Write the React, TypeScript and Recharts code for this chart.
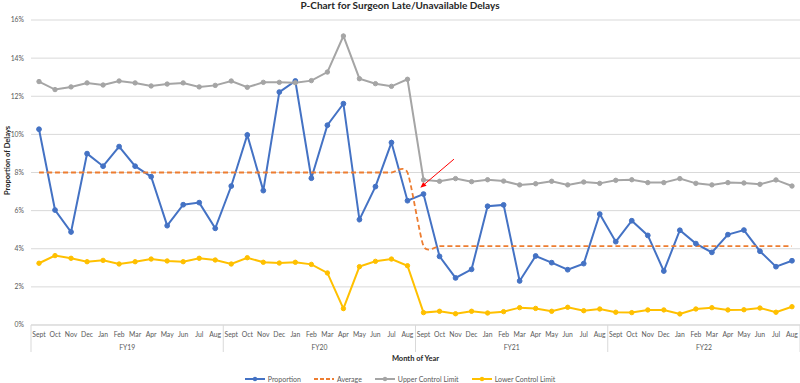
import React from 'react';
import { LineChart, Line, XAxis, YAxis, CartesianGrid, Legend, ReferenceLine, Label } from 'recharts';

// months of each fiscal year, Sept -> Aug
const MONTHS = ['Sept', 'Oct', 'Nov', 'Dec', 'Jan', 'Feb', 'Mar', 'Apr', 'May', 'Jun', 'Jul', 'Aug'];
const FISCAL_YEARS = ['FY19', 'FY20', 'FY21', 'FY22'];

const proportion = [
  10.27, 6.03, 4.88, 8.99, 8.33, 9.36, 8.33, 7.78, 5.21, 6.31, 6.42, 5.07,
  7.29, 9.97, 7.05, 12.22, 12.8, 7.7, 10.48, 11.61, 5.53, 7.26, 9.57, 6.52,
  6.87, 3.6, 2.47, 2.92, 6.23, 6.3, 2.31, 3.62, 3.27, 2.9, 3.22, 5.82,
  4.37, 5.47, 4.7, 2.83, 4.97, 4.27, 3.81, 4.74, 4.98, 3.87, 3.06, 3.37,
];

const average = [
  8, 8, 8, 8, 8, 8, 8, 8, 8, 8, 8, 8,
  8, 8, 8, 8, 8, 8, 8, 8, 8, 8, 8, 8,
  4.14, 4.14, 4.14, 4.14, 4.14, 4.14, 4.14, 4.14, 4.14, 4.14, 4.14, 4.14,
  4.14, 4.14, 4.14, 4.14, 4.14, 4.14, 4.14, 4.14, 4.14, 4.14, 4.14, 4.14,
];

const upperLimit = [
  12.77, 12.35, 12.49, 12.7, 12.59, 12.8, 12.7, 12.54, 12.64, 12.7, 12.49, 12.57,
  12.8, 12.47, 12.73, 12.73, 12.71, 12.82, 13.27, 15.16, 12.92, 12.66, 12.52, 12.89,
  7.61, 7.54, 7.68, 7.52, 7.62, 7.55, 7.35, 7.41, 7.54, 7.35, 7.5, 7.43,
  7.59, 7.62, 7.47, 7.47, 7.68, 7.43, 7.35, 7.47, 7.45, 7.38, 7.61, 7.29,
];

const lowerLimit = [
  3.24, 3.64, 3.5, 3.32, 3.39, 3.2, 3.32, 3.46, 3.36, 3.32, 3.5, 3.41,
  3.2, 3.53, 3.29, 3.25, 3.29, 3.18, 2.73, 0.86, 3.06, 3.34, 3.46, 3.11,
  0.65, 0.72, 0.59, 0.72, 0.63, 0.7, 0.91, 0.87, 0.72, 0.93, 0.75, 0.84,
  0.67, 0.65, 0.79, 0.79, 0.58, 0.84, 0.91, 0.79, 0.8, 0.89, 0.67, 0.96,
];

const Y_TICKS = [0, 2, 4, 6, 8, 10, 12, 14, 16];
const FY_CENTERS = [5.5, 17.5, 29.5, 41.5];
const FY_BOUNDS = [-0.5, 11.5, 23.5, 35.5, 47.5];

// annotation arrow (index, percent) from tail to head
const ARROW = [
  { x: 25.9, y: 8.7 },
  { x: 23.8, y: 7.2 },
];

const data = proportion.map((p, i) => ({
  i,
  month: MONTHS[i % 12],
  fy: FISCAL_YEARS[Math.floor(i / 12)],
  proportion: p,
  average: average[i],
  ucl: upperLimit[i],
  lcl: lowerLimit[i],
}));

const COLORS = {
  proportion: '#4472C4',
  average: '#ED7D31',
  ucl: '#A5A5A5',
  lcl: '#FFC000',
};

const FONT = 'Lato, "Open Sans", sans-serif';
const TEXT = '#595959';

// Excel-like smoothed line (bezier through points, mild tension)
function excelSmooth(context: any) {
  let xs: number[] = [];
  let ys: number[] = [];
  const k = 0.11;
  return {
    areaStart() {},
    areaEnd() {},
    lineStart() {
      xs = [];
      ys = [];
    },
    lineEnd() {
      const n = xs.length;
      if (!n) return;
      context.moveTo(xs[0], ys[0]);
      for (let i = 0; i < n - 1; i++) {
        const a = Math.max(i - 1, 0);
        const d = Math.min(i + 2, n - 1);
        context.bezierCurveTo(
          xs[i] + k * (xs[i + 1] - xs[a]),
          ys[i] + k * (ys[i + 1] - ys[a]),
          xs[i + 1] - k * (xs[d] - xs[i]),
          ys[i + 1] - k * (ys[d] - ys[i]),
          xs[i + 1],
          ys[i + 1]
        );
      }
    },
    point(x: number, y: number) {
      xs.push(+x);
      ys.push(+y);
    },
  };
}

const FyTick = (props: any) => {
  const { x, y, payload } = props;
  if (FY_BOUNDS.includes(payload.value)) {
    return <line x1={x} x2={x} y1={y - 14} y2={y + 13} stroke="#d9d9d9" strokeWidth={1} />;
  }
  const idx = FY_CENTERS.indexOf(payload.value);
  return (
    <text x={x} y={y + 8.7} dy="0.35em" textAnchor="middle" fontSize={6.8} fill={TEXT} fontFamily={FONT}>
      {FISCAL_YEARS[idx]}
    </text>
  );
};

const YTitle = (props: any) => {
  const { viewBox } = props;
  const cx = viewBox.x + 7;
  const cy = viewBox.y + viewBox.height / 2 - 12;
  return (
    <text
      x={cx}
      y={cy}
      transform={`rotate(-90, ${cx}, ${cy})`}
      textAnchor="middle"
      dominantBaseline="central"
      fontSize={7.5}
      fontWeight="bold"
      fill="#262626"
      fontFamily={FONT}
    >
      Proportion of Delays
    </text>
  );
};

const Arrow = (props: any) => {
  const { x1, y1, x2, y2 } = props;
  const ang = Math.atan2(y2 - y1, x2 - x1);
  const len = 6;
  const w = 2.6;
  const bx = x2 - len * Math.cos(ang);
  const by = y2 - len * Math.sin(ang);
  const px = -Math.sin(ang) * w;
  const py = Math.cos(ang) * w;
  return (
    <g>
      <line x1={x1} y1={y1} x2={bx} y2={by} stroke="#FF0000" strokeWidth={1} />
      <polygon points={`${x2},${y2} ${bx + px},${by + py} ${bx - px},${by - py}`} fill="#FF0000" />
    </g>
  );
};

const LEGEND_ITEMS = [
  { key: 'proportion', name: 'Proportion', dashed: false },
  { key: 'average', name: 'Average', dashed: true },
  { key: 'ucl', name: 'Upper Control Limit', dashed: false },
  { key: 'lcl', name: 'Lower Control Limit', dashed: false },
];

const LegendContent = () => (
  <div
    style={{
      display: 'flex',
      justifyContent: 'center',
      alignItems: 'center',
      gap: 13,
      height: 12,
      fontSize: 7,
      color: TEXT,
      fontFamily: FONT,
    }}
  >
    {LEGEND_ITEMS.map((item) => {
      const c = (COLORS as any)[item.key];
      return (
        <div key={item.key} style={{ display: 'flex', alignItems: 'center' }}>
          <svg width={20} height={8}>
            <line x1={0} y1={4} x2={20} y2={4} stroke={c} strokeWidth={2} strokeDasharray={item.dashed ? '4 2' : undefined} />
            {!item.dashed && <circle cx={10} cy={4} r={2.2} fill={c} />}
          </svg>
          <span style={{ marginLeft: 3, whiteSpace: 'nowrap' }}>{item.name}</span>
        </div>
      );
    })}
  </div>
);

export default function App() {
  return (
    <div style={{ position: 'absolute', left: 0, top: 0, width: 800, height: 383, background: '#fff', fontFamily: FONT }}>
      <div
        style={{
          position: 'absolute',
          top: 0,
          left: 0,
          width: 800,
          textAlign: 'center',
          fontSize: 10,
          lineHeight: '11px',
          fontWeight: 'bold',
          color: '#262626',
          zIndex: 2,
        }}
      >
        P-Chart for Surgeon Late/Unavailable Delays
      </div>
      <LineChart width={800} height={383} data={data} margin={{ top: 20, right: 0, left: 0, bottom: 18 }}>
        <CartesianGrid xAxisId="month" vertical={false} stroke="#d9d9d9" strokeWidth={1} />
        <XAxis
          xAxisId="month"
          dataKey="i"
          type="number"
          domain={[-0.5, 47.5]}
          ticks={data.map((d) => d.i)}
          interval={0}
          tickFormatter={(v: number) => MONTHS[v % 12]}
          tickLine={false}
          tickSize={4}
          tickMargin={3}
          axisLine={{ stroke: '#d9d9d9' }}
          height={14}
          tick={{ fontSize: 6.8, fill: TEXT, fontFamily: FONT }}
        />
        <XAxis
          xAxisId="year"
          dataKey="i"
          type="number"
          domain={[-0.5, 47.5]}
          ticks={[...FY_BOUNDS, ...FY_CENTERS].sort((a, b) => a - b)}
          interval={0}
          tick={<FyTick />}
          tickLine={false}
          axisLine={false}
          tickSize={0}
          tickMargin={0}
          height={14}
        >
          <Label
            value="Month of Year"
            position="bottom"
            offset={2.5}
            style={{ fontSize: 7.5, fontWeight: 'bold', fill: '#262626', fontFamily: FONT }}
          />
        </XAxis>
        <YAxis
          domain={[0, 16]}
          ticks={Y_TICKS}
          tickFormatter={(v: number) => `${v}%`}
          tickLine={false}
          axisLine={false}
          tickSize={0}
          tickMargin={7}
          width={31}
          tick={{ fontSize: 6.8, fill: TEXT, fontFamily: FONT }}
          label={<Label content={<YTitle />} />}
        />
        <Line
          xAxisId="month"
          dataKey="proportion"
          name="Proportion"
          type="linear"
          stroke={COLORS.proportion}
          strokeWidth={2}
          dot={{ r: 2.4, fill: COLORS.proportion, stroke: COLORS.proportion, strokeWidth: 1 }}
          isAnimationActive={false}
        />
        <Line
          xAxisId="month"
          dataKey="average"
          name="Average"
          type={excelSmooth as any}
          stroke={COLORS.average}
          strokeWidth={1.8}
          strokeDasharray="5 3"
          dot={false}
          isAnimationActive={false}
        />
        <Line
          xAxisId="month"
          dataKey="ucl"
          name="Upper Control Limit"
          type="linear"
          stroke={COLORS.ucl}
          strokeWidth={2}
          dot={{ r: 2.2, fill: COLORS.ucl, stroke: COLORS.ucl, strokeWidth: 1 }}
          isAnimationActive={false}
        />
        <Line
          xAxisId="month"
          dataKey="lcl"
          name="Lower Control Limit"
          type="linear"
          stroke={COLORS.lcl}
          strokeWidth={2}
          dot={{ r: 2.2, fill: COLORS.lcl, stroke: COLORS.lcl, strokeWidth: 1 }}
          isAnimationActive={false}
        />
        <ReferenceLine
          xAxisId="month"
          segment={ARROW}
          ifOverflow="visible"
          shape={<Arrow />}
        />
        <Legend
          verticalAlign="bottom"
          height={12}
          content={<LegendContent />}
          wrapperStyle={{ top: 373, bottom: 'auto', left: 0, width: 800 }}
        />
      </LineChart>
    </div>
  );
}
